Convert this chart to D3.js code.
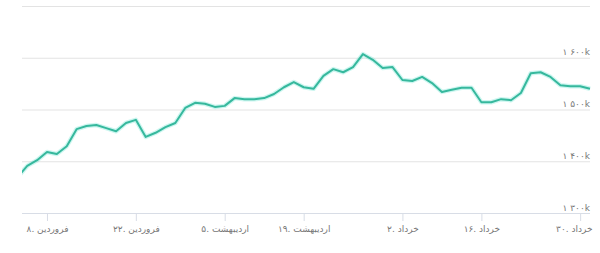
<!DOCTYPE html>
<html>
<head>
<meta charset="utf-8">
<script src="https://cdn.jsdelivr.net/npm/d3@7"></script>
<style>
  body { margin: 0; background: #fff; }
  text { font-family: "DejaVu Sans", sans-serif; }
</style>
</head>
<body>
<div id="viz"></div>
<script>
// index values (trading days), thousands
var values = [1369, 1391, 1402, 1418, 1414, 1429, 1462, 1468, 1470, 1464,
              1458, 1474, 1480, 1447, 1455, 1466, 1474, 1503, 1513, 1511,
              1505, 1507, 1522, 1520, 1520, 1522, 1530, 1543, 1553, 1543,
              1540, 1565, 1578, 1572, 1582, 1607, 1596, 1580, 1582, 1557,
              1555, 1563, 1551, 1534, 1538, 1542, 1542, 1514, 1514, 1520,
              1518, 1532, 1570, 1572, 1563, 1547, 1545, 1545, 1540];

// which data point each date label sits on
var tickIndex = [3, 12, 21, 29, 39, 47, 57];
var tickLabels = ['۸. فروردین', '۲۲. فروردین', '۵. اردیبهشت', '۱۹. اردیبهشت',
                  '۲. خرداد', '۱۶. خرداد', '۳۰. خرداد'];

var yTicks = [1300, 1400, 1500, 1600, 1700];
var yLabels = ['۱ ۳۰۰k', '۱ ۴۰۰k', '۱ ۵۰۰k', '۱ ۶۰۰k', ''];

var width = 600,
    height = 253,
    plotLeft = 22,
    plotRight = 590,
    plotTop = 6,
    plotBottom = 213;

var svg = d3.select('#viz').append('svg')
  .attr('width', width)
  .attr('height', height);

var xScale = d3.scaleLinear()
  .domain([0.47, values.length - 1])
  .range([plotLeft, plotRight]);

var yScale = d3.scaleLinear()
  .domain([1300, 1700])
  .range([plotBottom, plotTop]);

// grid + right labels
var yAxis = svg.append('g')
  .attr('transform', 'translate(' + plotRight + ',0)')
  .call(d3.axisLeft(yScale)
    .tickValues(yTicks)
    .tickSize(plotRight - plotLeft)
    .tickFormat(function(d, i){ return yLabels[i]; }));

yAxis.select('.domain').remove();
yAxis.selectAll('line').attr('stroke', '#e3e3e3');
yAxis.selectAll('text')
  .attr('x', 0)
  .attr('dy', -3)
  .attr('text-anchor', 'end')
  .attr('fill', '#777')
  .style('font-size', '9px');

var xAxis = svg.append('g')
  .attr('transform', 'translate(0,' + plotBottom + ')')
  .call(d3.axisBottom(xScale)
    .tickValues(tickIndex)
    .tickSize(8)
    .tickPadding(5)
    .tickFormat(function(d, i){ return tickLabels[i]; }));

xAxis.select('.domain')
  .attr('d', 'M' + plotLeft + ',0.5H' + plotRight)
  .attr('stroke', '#d8dde6');
xAxis.selectAll('line').attr('stroke', '#d8dde6');
xAxis.selectAll('text')
  .attr('fill', '#777')
  .style('font-size', '9px');

// last label pulled inside the chart
xAxis.selectAll('.tick').filter(function(d, i){ return i == tickIndex.length - 1; })
  .select('text')
  .attr('text-anchor', 'end')
  .attr('x', function(d){ return plotRight + 2 - xScale(d); });

svg.append('clipPath')
  .attr('id', 'plot')
  .append('rect')
  .attr('x', plotLeft)
  .attr('y', 0)
  .attr('width', plotRight - plotLeft + 2)
  .attr('height', plotBottom);

var line = d3.line()
  .x(function(d, i){ return xScale(i); })
  .y(function(d){ return yScale(d); });

var g = svg.append('g').attr('clip-path', 'url(#plot)');

// soft halo under the line
g.append('path')
  .datum(values)
  .attr('d', line)
  .attr('fill', 'none')
  .attr('stroke', 'rgba(90,225,205,0.3)')
  .attr('stroke-width', 4.5)
  .attr('stroke-linejoin', 'round');

g.append('path')
  .datum(values)
  .attr('d', line)
  .attr('fill', 'none')
  .attr('stroke', '#36b89d')
  .attr('stroke-width', 2)
  .attr('stroke-linejoin', 'round');
</script>
</body>
</html>
